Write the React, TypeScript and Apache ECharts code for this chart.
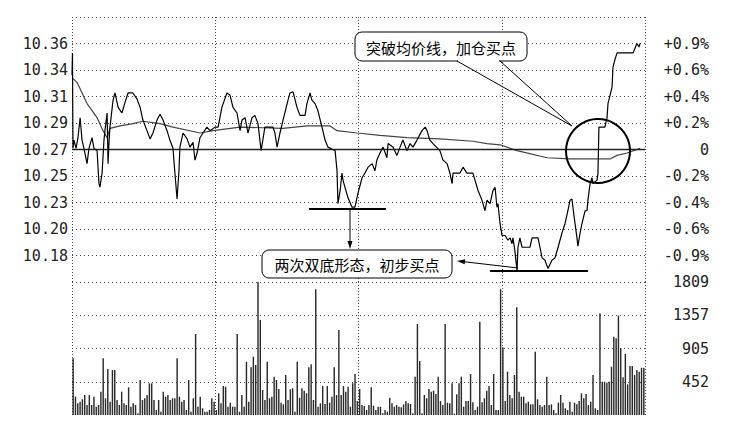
import React, { useEffect, useRef } from 'react';
import * as echarts from 'echarts';

// ---- tick labels ----
const priceLabels = ['10.36', '10.34', '10.31', '10.29', '10.27', '10.25', '10.23', '10.20', '10.18'];
const pctLabels = ['+0.9%', '+0.6%', '+0.4%', '+0.2%', '0', '-0.2%', '-0.4%', '-0.6%', '-0.9%'];
const volLabels = ['452', '905', '1357', '1809'];
const basePrice = 10.27;
const priceStep = 0.0225;
const volMax = 1809;
const sessionMinutes = 240;

// ---- price line (minute, price) ----
const priceMinutes = [
  0, 0.2, 0.4, 0.8, 1.7, 2.5, 3.4, 4.2, 5.0, 6.3, 7.1, 8.4, 9.2, 10.5, 11.3, 11.7, 12.6, 13.4, 13.8, 14.7,
  15.1, 15.5, 15.9, 17.2, 18.0, 19.3, 20.9, 22.2, 23.5, 25.5, 27.2, 28.5, 29.7, 31.4, 32.7, 33.9, 35.6, 36.9, 38.1, 39.8,
  41.0, 42.3, 43.1, 44.0, 44.8, 45.2, 46.5, 48.2, 49.4, 50.7, 51.5, 52.4, 53.6, 54.9, 56.5, 57.8, 59.9, 61.2, 62.8, 64.9,
  66.2, 67.4, 69.1, 70.4, 71.2, 72.5, 73.7, 75.4, 76.6, 77.9, 79.2, 80.8, 84.2, 85.0, 85.9, 87.1, 88.4, 90.1, 91.3, 92.6,
  94.2, 95.5, 97.6, 98.4, 99.7, 100.5, 101.8, 103.0, 104.7, 106.0, 107.2, 110.2, 111.0, 111.4, 112.3, 113.1, 113.5, 114.3, 115.6, 117.3,
  118.5, 119.8, 121.5, 122.7, 124.0, 125.7, 126.9, 127.7, 129.0, 130.3, 131.9, 132.4, 134.5, 136.1, 137.4, 138.6, 140.3, 141.6, 142.8, 144.5,
  146.6, 147.9, 148.7, 149.9, 151.2, 154.1, 155.4, 157.1, 158.3, 159.2, 159.6, 162.5, 163.8, 165.4, 167.9, 168.8, 170.1, 171.7, 173.0, 173.8,
  175.1, 176.3, 177.2, 178.0, 178.4, 179.3, 180.1, 181.4, 182.6, 183.5, 184.3, 184.7, 185.5, 186.4, 186.8, 187.6, 188.5, 191.8, 192.7, 195.2,
  196.0, 196.9, 198.1, 199.0, 199.4, 201.0, 202.3, 203.6, 205.2, 206.5, 207.7, 208.6, 209.4, 209.8, 210.7, 211.5, 211.9, 212.8, 213.6, 214.9,
  215.7, 216.1, 217.0, 217.8, 218.2, 219.9, 220.3, 220.7, 223.2, 224.1, 224.5, 226.2, 226.6, 227.5, 228.3, 235.0, 235.8, 236.6, 237.5, 237.9,
];
const prices = [
  10.333, 10.352, 10.271, 10.278, 10.271, 10.280, 10.297, 10.278, 10.271, 10.258, 10.271, 10.280, 10.271, 10.269, 10.241, 10.238, 10.250, 10.278, 10.286, 10.301,
  10.258, 10.276, 10.289, 10.312, 10.318, 10.306, 10.301, 10.310, 10.318, 10.318, 10.313, 10.306, 10.295, 10.286, 10.279, 10.284, 10.295, 10.300, 10.295, 10.286,
  10.278, 10.271, 10.250, 10.228, 10.252, 10.272, 10.284, 10.279, 10.272, 10.276, 10.261, 10.267, 10.280, 10.284, 10.289, 10.286, 10.289, 10.289, 10.306, 10.318,
  10.316, 10.306, 10.301, 10.286, 10.295, 10.297, 10.284, 10.297, 10.299, 10.292, 10.269, 10.289, 10.289, 10.284, 10.272, 10.284, 10.295, 10.309, 10.318, 10.319,
  10.306, 10.299, 10.299, 10.309, 10.318, 10.312, 10.309, 10.303, 10.289, 10.278, 10.272, 10.269, 10.252, 10.224, 10.235, 10.250, 10.244, 10.238, 10.229, 10.221,
  10.221, 10.233, 10.246, 10.250, 10.255, 10.258, 10.252, 10.261, 10.267, 10.272, 10.263, 10.275, 10.272, 10.265, 10.272, 10.278, 10.269, 10.275, 10.272, 10.278,
  10.286, 10.289, 10.286, 10.278, 10.275, 10.269, 10.261, 10.258, 10.250, 10.241, 10.250, 10.250, 10.255, 10.250, 10.250, 10.244, 10.235, 10.227, 10.218, 10.227,
  10.224, 10.235, 10.238, 10.221, 10.224, 10.207, 10.197, 10.197, 10.193, 10.195, 10.190, 10.195, 10.184, 10.167, 10.187, 10.195, 10.187, 10.187, 10.195, 10.195,
  10.187, 10.178, 10.176, 10.171, 10.169, 10.176, 10.178, 10.187, 10.199, 10.207, 10.218, 10.227, 10.228, 10.221, 10.207, 10.195, 10.188, 10.199, 10.207, 10.218,
  10.218, 10.227, 10.241, 10.246, 10.241, 10.244, 10.250, 10.289, 10.289, 10.297, 10.309, 10.323, 10.340, 10.347, 10.352, 10.352, 10.356, 10.360, 10.357, 10.360,
];

// ---- average price line (minute, price) ----
const avgMinutes = [
  0, 2.1, 6.3, 10.5, 13.0, 14.7, 15.9, 20.1, 25.5, 29.7, 36.9, 42.3, 53.6, 59.1, 70.4, 88.4, 98.4, 108.1, 111.0, 119.4,
  129.0, 140.3, 154.1, 168.0, 173.8, 179.3, 186.4, 199.0, 208.6, 225.3, 228.3, 232.5, 237.9,
];
const avgPrices = [
  10.331, 10.327, 10.309, 10.297, 10.286, 10.280, 10.288, 10.290, 10.292, 10.294, 10.292, 10.289, 10.284, 10.286, 10.289, 10.288, 10.290, 10.290, 10.286, 10.284,
  10.282, 10.280, 10.279, 10.277, 10.275, 10.274, 10.269, 10.263, 10.262, 10.262, 10.265, 10.267, 10.271,
];

// ---- volume per bar ----
const volumes = [
  771, 249, 159, 181, 213, 272, 136, 272, 136, 249,
  113, 136, 317, 771, 227, 626, 181, 612, 612, 204,
  136, 317, 159, 136, 377, 113, 159, 136, 23, 476,
  204, 227, 272, 431, 431, 204, 68, 204, 45, 317,
  249, 272, 204, 227, 227, 771, 249, 181, 204, 68,
  476, 45, 227, 1102, 113, 249, 91, 45, 45, 68,
  227, 181, 68, 295, 159, 394, 385, 113, 168, 113,
  113, 1102, 45, 272, 113, 725,
  181, 649, 793, 680, 1809, 1292, 340, 204, 725, 227,
  249, 521, 476, 354, 168, 145, 544, 204, 350, 363,
  45, 725, 235, 363, 331, 295, 649, 690, 204, 1711,
  113, 159, 394, 150, 394, 168, 249, 649, 272, 1156,
  272, 394, 317, 385, 113, 431, 558, 190, 354, 136,
  122, 68, 136, 377, 127, 68, 113, 113, 23, 68,
  45, 235, 159, 113, 136, 113, 104, 145, 190, 159,
  150, 23, 521, 1238, 734, 23, 272, 227, 354, 317,
  331, 286, 521, 190, 136, 1238, 168, 159, 431, 20,
  281, 431, 521, 113, 190, 190, 558, 172, 68, 113,
  1269, 172, 227, 331, 394,
  136, 558, 68, 68, 1711, 921, 190, 589, 272, 227,
  544, 1465, 317, 249, 249, 159, 181, 145, 145, 861,
  213, 136, 113, 136, 521, 136, 145, 68, 23, 168,
  272, 168, 91, 68, 181, 45, 168, 145, 190, 295,
  227, 286, 136, 181, 544, 91, 68, 1383, 453, 453,
  439, 453, 657, 1065, 1043, 1351, 907, 513, 830, 417,
  666, 666, 544, 612, 589, 643, 643,
];

const labelFont = '"DejaVu Sans Mono", monospace';
const cjkFont = '"Noto Sans CJK SC", sans-serif';

export default function App() {
  const ref = useRef<HTMLDivElement>(null);

  useEffect(() => {
    if (!ref.current) return;
    const chart = echarts.init(ref.current, undefined, { renderer: 'svg' });

    const hDotted = { color: '#444', width: 1, type: [1, 3] as number[] };
    const vDotted = { color: '#444', width: 1, type: [1, 2] as number[] };
    const labelStyle = { color: '#222', fontSize: 15, fontFamily: labelFont };

    const option: any = {
      animation: false,
      backgroundColor: '#fff',
      grid: [
        { left: 72, top: 17, width: 573, height: 265 },
        { left: 72, top: 282, width: 573, height: 133 },
      ],
      xAxis: [
        {
          gridIndex: 0, type: 'value', min: 0, max: sessionMinutes, interval: 60,
          axisLine: { show: false }, axisTick: { show: false }, axisLabel: { show: false },
          splitLine: { show: true, lineStyle: vDotted },
        },
        {
          gridIndex: 1, type: 'category', data: volumes.map((_, i) => i), show: false,
        },
        {
          gridIndex: 1, type: 'value', min: 0, max: sessionMinutes, interval: 60,
          axisLine: { show: false }, axisTick: { show: false }, axisLabel: { show: false },
          splitLine: { show: true, lineStyle: vDotted },
        },
      ],
      yAxis: [
        {
          gridIndex: 0, type: 'value', position: 'left', min: -5, max: 5, interval: 1,
          axisLine: { show: false }, axisTick: { show: false },
          axisLabel: {
            ...labelStyle, margin: 4,
            formatter: (v: number) => {
              const i = 4 - Math.round(v);
              return i >= 0 && i < priceLabels.length ? priceLabels[i] : '';
            },
          },
          splitLine: { show: true, lineStyle: hDotted },
        },
        {
          gridIndex: 0, type: 'value', position: 'right', min: -5, max: 5, interval: 1,
          axisLine: { show: false }, axisTick: { show: false },
          axisLabel: {
            ...labelStyle, margin: 64, align: 'right',
            formatter: (v: number) => {
              const i = 4 - Math.round(v);
              return i >= 0 && i < pctLabels.length ? pctLabels[i] : '';
            },
          },
          splitLine: { show: false },
        },
        {
          gridIndex: 0, type: 'value', show: false,
          min: basePrice - 5 * priceStep, max: basePrice + 5 * priceStep,
          splitLine: { show: false },
        },
        {
          gridIndex: 1, type: 'value', position: 'right', min: 0, max: 4, interval: 1,
          axisLine: { show: false }, axisTick: { show: false },
          axisLabel: {
            ...labelStyle, margin: 64, align: 'right',
            formatter: (v: number) => {
              const i = Math.round(v) - 1;
              return i >= 0 && i < volLabels.length ? volLabels[i] : '';
            },
          },
          splitLine: { show: true, showMinLine: false, lineStyle: hDotted },
        },
        {
          gridIndex: 1, type: 'value', show: false, min: 0, max: volMax,
          splitLine: { show: false },
        },
      ],
      series: [
        {
          name: 'avg', type: 'line', xAxisIndex: 0, yAxisIndex: 2,
          data: avgMinutes.map((m, i) => [m, avgPrices[i]]),
          showSymbol: false, symbol: 'none',
          lineStyle: { color: '#444', width: 1.2 },
          z: 3,
        },
        {
          name: 'price', type: 'line', xAxisIndex: 0, yAxisIndex: 2,
          data: priceMinutes.map((m, i) => [m, prices[i]]),
          showSymbol: false, symbol: 'none',
          lineStyle: { color: '#000', width: 1.2 },
          z: 4,
          markLine: {
            silent: true, symbol: 'none', label: { show: false },
            lineStyle: { color: '#222', width: 1.3, type: 'solid' },
            data: [{ yAxis: basePrice }],
          },
        },
        {
          name: 'volume', type: 'bar', xAxisIndex: 1, yAxisIndex: 4,
          data: volumes, barWidth: '62%',
          itemStyle: { color: '#2a2a2a' },
        },
      ],
      graphic: [
        // callout 1
        { type: 'rect', z: 100, shape: { x: 355, y: 32, width: 172, height: 29, r: 7 }, style: { fill: '#fff', stroke: '#000', lineWidth: 1 } },
        { type: 'line', z: 101, shape: { x1: 458, y1: 61, x2: 499, y2: 61 }, style: { stroke: '#fff', lineWidth: 2 } },
        { type: 'polyline', z: 101, shape: { points: [[457, 61], [572, 126], [500, 61]] }, style: { fill: null, stroke: '#000', lineWidth: 1 } },
        { type: 'text', z: 102, x: 441, y: 47, style: { text: '突破均价线，加仓买点', font: `15px ${cjkFont}`, fill: '#000', align: 'center', verticalAlign: 'middle' } },
        // circle
        { type: 'circle', z: 100, shape: { cx: 598, cy: 151, r: 32 }, style: { fill: null, stroke: '#000', lineWidth: 2 } },
        // first double bottom support + arrow
        { type: 'line', z: 100, shape: { x1: 309, y1: 209, x2: 386, y2: 209 }, style: { stroke: '#000', lineWidth: 2 } },
        { type: 'line', z: 100, shape: { x1: 350, y1: 209, x2: 350, y2: 243 }, style: { stroke: '#000', lineWidth: 1 } },
        { type: 'polygon', z: 100, shape: { points: [[347.5, 241], [352.5, 241], [350, 249]] }, style: { fill: '#000' } },
        // second double bottom support + arrow
        { type: 'line', z: 100, shape: { x1: 490, y1: 271, x2: 588, y2: 271 }, style: { stroke: '#000', lineWidth: 2 } },
        { type: 'line', z: 100, shape: { x1: 518, y1: 268, x2: 463, y2: 261.6 }, style: { stroke: '#000', lineWidth: 1 } },
        { type: 'polygon', z: 100, shape: { points: [[457, 261], [464.7, 264.3], [465.2, 259.3]] }, style: { fill: '#000' } },
        // callout 2
        { type: 'rect', z: 100, shape: { x: 262, y: 250, width: 190, height: 28, r: 7 }, style: { fill: '#fff', stroke: '#000', lineWidth: 1 } },
        { type: 'text', z: 102, x: 357, y: 264.5, style: { text: '两次双底形态，初步买点', font: `15px ${cjkFont}`, fill: '#000', align: 'center', verticalAlign: 'middle' } },
      ],
    };

    chart.setOption(option);
    return () => chart.dispose();
  }, []);

  return (
    <div
      ref={ref}
      style={{ position: 'fixed', left: 0, top: 0, width: 731, height: 433, background: '#fff' }}
    />
  );
}
